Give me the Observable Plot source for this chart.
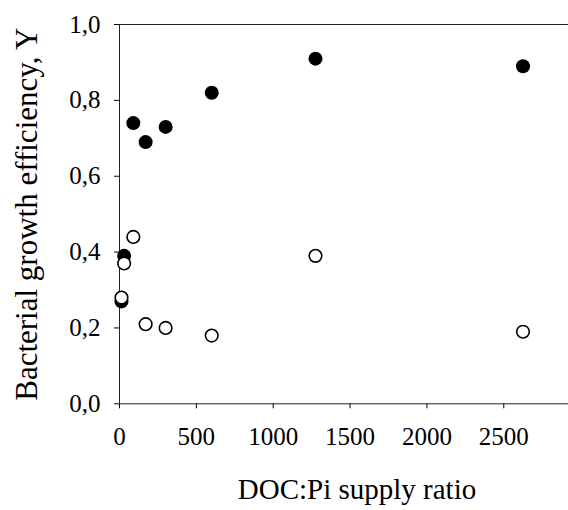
<!DOCTYPE html>
<html>
<head>
<meta charset="utf-8">
<script src="https://cdn.jsdelivr.net/npm/d3@7"></script>
<script src="https://cdn.jsdelivr.net/npm/@observablehq/plot@0.6"></script>
<style>
  html, body { margin: 0; padding: 0; background: #fff; }
  #chart svg, #chart svg text { font-family: "Liberation Serif", "Times New Roman", serif !important; }
</style>
</head>
<body>
<div id="chart"></div>
<script>
// DOC:Pi supply ratio (x) for each sample
const ratio = [13, 30, 90, 170, 300, 600, 1275, 2625];
// Filled circles: bacterial growth efficiency
const filledY = [0.27, 0.39, 0.74, 0.69, 0.73, 0.82, 0.91, 0.89];
// Open circles: bacterial growth efficiency
const openY = [0.28, 0.37, 0.44, 0.21, 0.20, 0.18, 0.39, 0.19];
// Tick values
const xTicks = [0, 500, 1000, 1500, 2000, 2500];
const yTicks = [0, 0.2, 0.4, 0.6, 0.8, 1.0];
const xTitle = "DOC:Pi supply ratio";
const yTitle = "Bacterial growth efficiency, Y";

const filled = ratio.map((x, i) => ({x, y: filledY[i]}));
const open = ratio.map((x, i) => ({x, y: openY[i]}));

const serif = "'Liberation Serif', 'Times New Roman', serif";

const chart = Plot.plot({
  width: 568,
  height: 510,
  marginLeft: 119,
  marginRight: 0,
  marginTop: 24,
  marginBottom: 106.7,
  style: {fontFamily: serif, fontSize: "25px", color: "#000", background: "#fff"},
  x: {domain: [0, 2921], ticks: xTicks, label: null},
  y: {domain: [0, 1], ticks: yTicks, label: null},
  marks: [
    Plot.axisX({ticks: xTicks, tickSize: 5, tickPadding: 18, tickFormat: d => String(d), label: null, fontSize: 25, fontFamily: serif}),
    Plot.axisY({ticks: yTicks, tickSize: 5, tickPadding: 14, tickFormat: d => d.toFixed(1).replace(".", ","), label: null, fontSize: 25, fontFamily: serif}),
    Plot.ruleX([0], {stroke: "#222"}),
    Plot.ruleY([0], {stroke: "#222"}),
    Plot.ruleY([1], {stroke: "#222"}),
    Plot.dot(filled, {x: "x", y: "y", r: 7, fill: "#000", stroke: "none"}),
    Plot.dot(open, {x: "x", y: "y", r: 6.3, fill: "#fff", stroke: "#000", strokeWidth: 1.6}),
    Plot.text([xTitle], {frameAnchor: "bottom", text: d => d, textAnchor: "middle", dx: 13, dy: 95, lineAnchor: "bottom", fontSize: 29, fontFamily: serif}),
    Plot.text([yTitle], {frameAnchor: "left", text: d => d, textAnchor: "middle", dx: -92, rotate: -90, lineAnchor: "middle", fontSize: 31, fontFamily: serif})
  ]
});
document.getElementById("chart").appendChild(chart);
</script>
</body>
</html>
